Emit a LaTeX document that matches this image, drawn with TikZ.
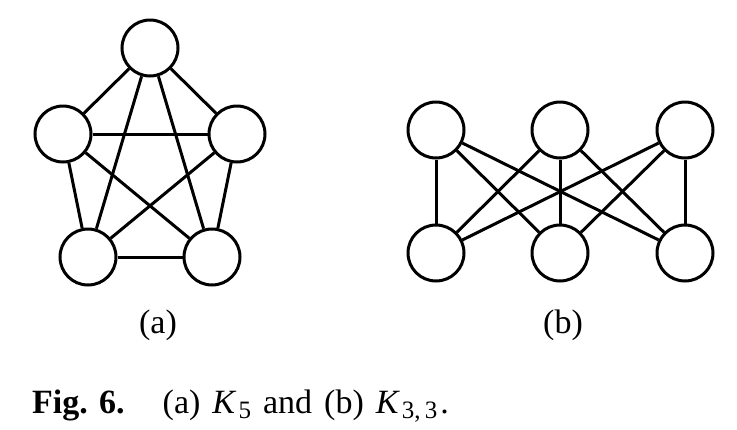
\documentclass[tikz,border=0pt]{standalone}
\usepackage{fontspec}
\setmainfont{Liberation Serif}
\usetikzlibrary{positioning}

\tikzset{
  vtx/.style={circle, draw, line width=3pt, minimum size=56pt, inner sep=0pt},
  edge/.style={line width=3pt},
  lbl/.style={font=\fontsize{34}{38}\selectfont, inner sep=0pt}
}
\newcommand{\Ksub}[1]{\textit{K}\kern2pt\raisebox{-5pt}{\fontsize{25}{27}\selectfont #1}}

\begin{document}
\begin{tikzpicture}[x=1pt, y=-1pt]
  \useasboundingbox (0,0) rectangle (737,429);

  %% (a) complete graph on five vertices
  \node[vtx] (a1) at (150,48) {};
  \node[vtx] (a2) at (63,134) {};
  \node[vtx] (a3) at (237,134) {};
  \node[vtx] (a4) at (88,257) {};
  \node[vtx] (a5) at (212,257) {};
  \foreach \i/\j in {1/2,1/3,1/4,1/5,2/3,2/4,2/5,3/4,3/5,4/5}
    \draw[edge] (a\i) -- (a\j);

  %% (b) complete bipartite graph
  \foreach \n/\x in {1/436,2/560,3/685} {
    \node[vtx] (t\n) at (\x,130) {};
    \node[vtx] (b\n) at (\x,253) {};
  }
  \foreach \i in {1,2,3}
    \foreach \j in {1,2,3}
      \draw[edge] (t\i) -- (b\j);

  % sub labels
  \node[lbl] (capa) at (158,325) {(a)};
  \node[lbl] (capb) at (563,325) {(b)};

  % caption
  \node[lbl, anchor=base west] (fig) at (32,413)
    {\textbf{Fig. 6.}\hspace{38pt}\spaceskip=12pt plus 1pt(a) \Ksub{5} and (b) \Ksub{3,\,3}\kern3pt.};
\end{tikzpicture}
\end{document}
